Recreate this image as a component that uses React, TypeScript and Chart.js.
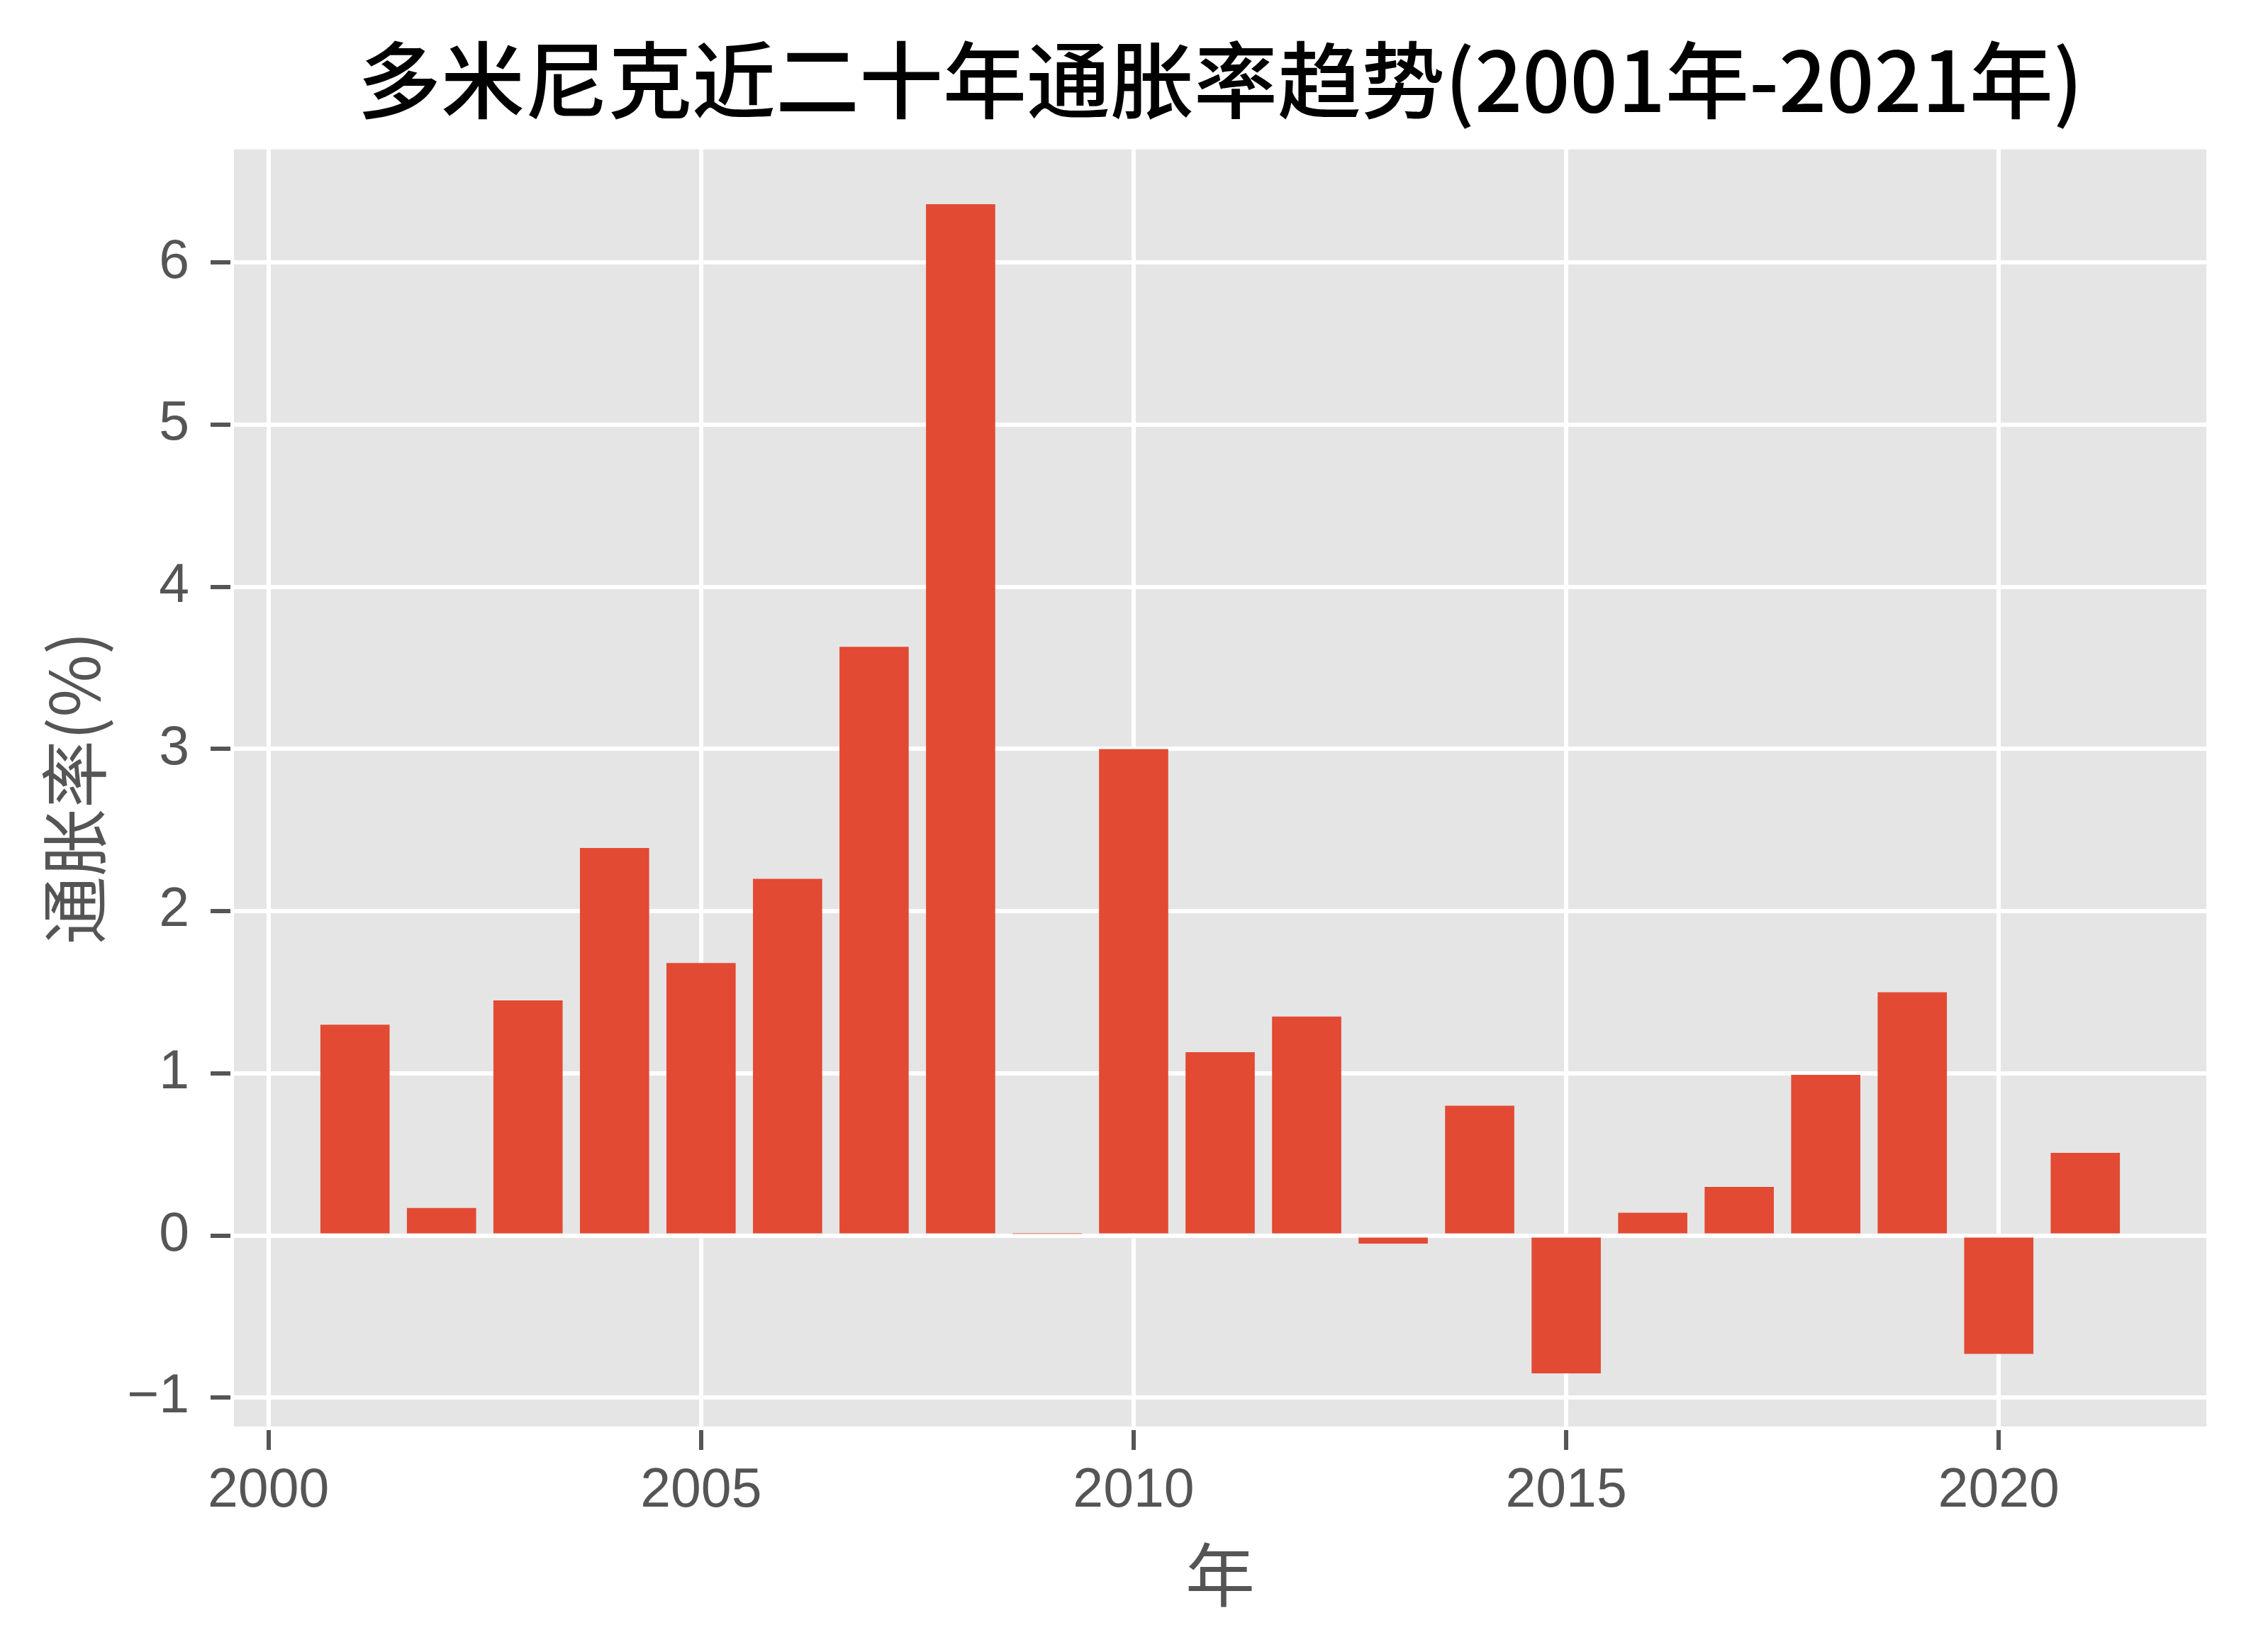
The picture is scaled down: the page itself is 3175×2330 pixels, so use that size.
import React, { useEffect, useRef } from 'react';
import { Chart, registerables } from 'chart.js';

Chart.register(...registerables);

const years = [2001, 2002, 2003, 2004, 2005, 2006, 2007, 2008, 2009, 2010, 2011, 2012, 2013, 2014, 2015, 2016, 2017, 2018, 2019, 2020, 2021];
const inflation = [1.3, 0.17, 1.45, 2.39, 1.68, 2.2, 3.63, 6.36, 0.01, 3.0, 1.13, 1.35, -0.05, 0.8, -0.85, 0.14, 0.3, 0.99, 1.5, -0.73, 0.51];
const xTickValues = [2000, 2005, 2010, 2015, 2020];
const yTickValues = [-1, 0, 1, 2, 3, 4, 5, 6];
const chartTitle = '多米尼克近二十年通胀率趋势(2001年-2021年)';
const xAxisLabel = '年';
const yAxisLabel = '通胀率(%)';

const CJK = '"Noto Sans CJK SC", "Noto Sans", sans-serif';
const LATIN = '"Liberation Sans", Arial, sans-serif';

export default function App() {
  const ref = useRef<HTMLCanvasElement>(null);

  useEffect(() => {
    document.body.style.margin = '0';
    const bgPlugin = {
      id: 'plotBg',
      beforeDraw(chart: any) {
        const { ctx, chartArea: a } = chart;
        ctx.save();
        ctx.fillStyle = '#E5E5E5';
        ctx.fillRect(a.left, a.top, a.right - a.left, a.bottom - a.top);
        ctx.strokeStyle = '#FFFFFF';
        ctx.lineWidth = 10;
        ctx.strokeRect(a.left, a.top, a.right - a.left, a.bottom - a.top);
        ctx.restore();
      },
    };

    const chart = new Chart(ref.current as HTMLCanvasElement, {
      type: 'bar',
      data: {
        datasets: [
          {
            data: years.map((y, i) => ({ x: y, y: inflation[i] })),
            backgroundColor: '#E24A33',
            borderWidth: 0,
            barPercentage: 0.8,
            categoryPercentage: 1.0,
          },
        ],
      },
      options: {
        responsive: false,
        animation: false,
        devicePixelRatio: 1,
        layout: { padding: { left: 0, top: 0, right: 58, bottom: 0 } },
        plugins: {
          legend: { display: false },
          tooltip: { enabled: false },
          title: {
            display: true,
            text: chartTitle,
            fullSize: false,
            color: '#000000',
            font: { family: CJK, size: 118, weight: 500 as any, lineHeight: 1.2 },
            padding: { top: 42, bottom: 22 },
          },
        },
        scales: {
          x: {
            type: 'linear',
            min: 1999.56,
            max: 2022.44,
            offset: false,
            afterBuildTicks: (s: any) => {
              s.ticks = xTickValues.map((v) => ({ value: v }));
            },
            afterFit: (s: any) => {
              s.height = 313;
            },
            grid: {
              offset: false,
              color: '#FFFFFF',
              lineWidth: 6,
              drawTicks: true,
              tickLength: 28,
              tickColor: '#555555',
              tickWidth: 6,
            },
            border: { display: false },
            ticks: {
              color: '#555555',
              padding: 13,
              maxRotation: 0,
              autoSkip: false,
              font: { family: LATIN, size: 77, lineHeight: 1.2 },
              callback: (v: any) => String(v),
            },
            title: {
              display: true,
              text: xAxisLabel,
              color: '#555555',
              font: { family: CJK, size: 98, lineHeight: 1.2 },
              padding: { top: 0, bottom: 50 },
            },
          },
          y: {
            type: 'linear',
            min: -1.2,
            max: 6.72,
            afterBuildTicks: (s: any) => {
              s.ticks = yTickValues.map((v) => ({ value: v }));
            },
            afterFit: (s: any) => {
              s.width = 325;
            },
            grid: {
              color: '#FFFFFF',
              lineWidth: 6,
              drawTicks: true,
              tickLength: 28,
              tickColor: '#555555',
              tickWidth: 6,
            },
            border: { display: false },
            ticks: {
              color: '#555555',
              padding: 30,
              autoSkip: false,
              font: { family: LATIN, size: 77, lineHeight: 1.2 },
              callback: (v: any) => (v < 0 ? '\u2212' + Math.abs(v) : String(v)),
            },
            title: {
              display: true,
              text: yAxisLabel,
              color: '#555555',
              font: { family: CJK, size: 96, lineHeight: 1.2 },
              padding: { top: 47, bottom: 0 },
            },
          },
        },
      },
      plugins: [bgPlugin],
    } as any);

    return () => chart.destroy();
  }, []);

  return (
    <div style={{ width: 3175, height: 2330 }}>
      <canvas ref={ref} width={3175} height={2330} style={{ display: 'block' }} />
    </div>
  );
}
